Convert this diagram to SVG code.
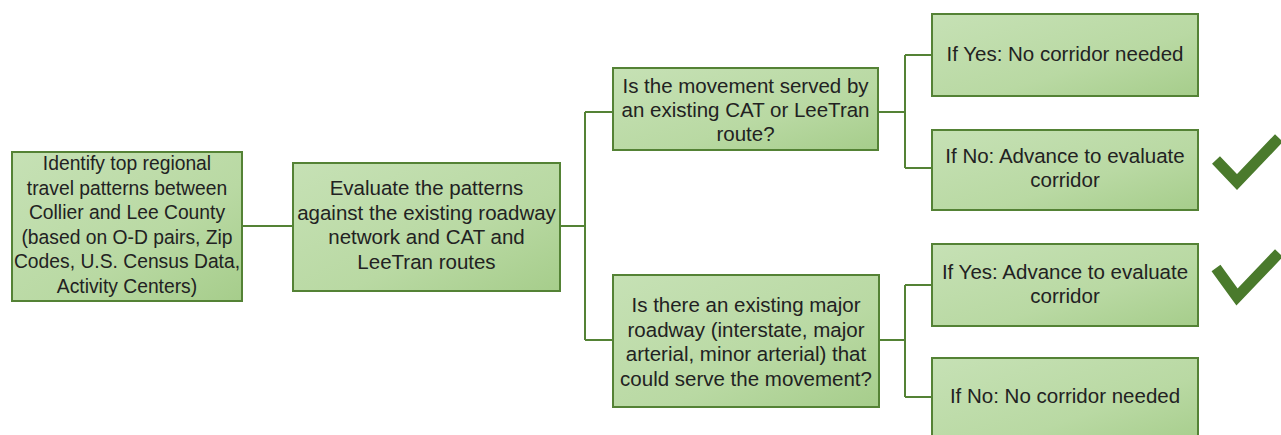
<svg xmlns="http://www.w3.org/2000/svg" width="1281" height="435" viewBox="0 0 1281 435">
<defs>
<linearGradient id="g" x1="0" y1="0" x2="1" y2="1">
<stop offset="0" stop-color="#c6e1b5"/>
<stop offset="0.6" stop-color="#b9d9a3"/>
<stop offset="1" stop-color="#a6cd8b"/>
</linearGradient>
<style>
.box{fill:url(#g);stroke:#548235;stroke-width:2}
.t{font-family:"Liberation Sans",Arial,sans-serif;font-size:20.5px;fill:#222;text-anchor:middle}
.s{font-size:19.3px}
.c{fill:none;stroke:#548235;stroke-width:2}
.chk{fill:none;stroke:#4a7a2c;stroke-width:11;stroke-linecap:butt;stroke-linejoin:miter}
</style>
</defs>
<rect width="1281" height="435" fill="#fff"/>
<g id="connectors">
<path class="c" d="M242 226H293"/>
<path class="c" d="M560 226H585M585 112V340M585 112H613M585 340H613"/>
<path class="c" d="M878 112H905M905 55V168M905 55H932M905 168H932"/>
<path class="c" d="M879 340H905M905 285V397M905 285H932M905 397H932"/>
</g>
<g id="n1">
<rect class="box" x="12" y="152" width="230" height="149"/>
<text class="t s" x="127" y="170">Identify top regional</text>
<text class="t s" x="127" y="194.5">travel patterns between</text>
<text class="t s" x="127" y="219">Collier and Lee County</text>
<text class="t s" x="127" y="243.5">(based on O-D pairs, Zip</text>
<text class="t s" x="127" y="268">Codes, U.S. Census Data,</text>
<text class="t s" x="127" y="292.5">Activity Centers)</text>
</g>
<g id="n2">
<rect class="box" x="293" y="163" width="267" height="128"/>
<text class="t" x="426.5" y="195">Evaluate the patterns</text>
<text class="t" x="426.5" y="219.5">against the existing roadway</text>
<text class="t" x="426.5" y="244">network and CAT and</text>
<text class="t" x="426.5" y="268.5">LeeTran routes</text>
</g>
<g id="n3">
<rect class="box" x="613" y="68" width="265" height="82"/>
<text class="t" x="745.5" y="93">Is the movement served by</text>
<text class="t" x="745.5" y="117">an existing CAT or LeeTran</text>
<text class="t" x="745.5" y="141">route?</text>
</g>
<g id="n4">
<rect class="box" x="613" y="275" width="266" height="132"/>
<text class="t" x="746" y="312">Is there an existing major</text>
<text class="t" x="746" y="337">roadway (interstate, major</text>
<text class="t" x="746" y="361">arterial, minor arterial) that</text>
<text class="t" x="746" y="386">could serve the movement?</text>
</g>
<g id="n5">
<rect class="box" x="932" y="14" width="266" height="82"/>
<text class="t" x="1065" y="61">If Yes: No corridor needed</text>
</g>
<g id="n6">
<rect class="box" x="932" y="130" width="266" height="80"/>
<text class="t" x="1065" y="163">If No: Advance to evaluate</text>
<text class="t" x="1065" y="187">corridor</text>
</g>
<g id="n7">
<rect class="box" x="932" y="244" width="266" height="82"/>
<text class="t" x="1065" y="279">If Yes: Advance to evaluate</text>
<text class="t" x="1065" y="303">corridor</text>
</g>
<g id="n8">
<rect class="box" x="932" y="358" width="266" height="90"/>
<text class="t" x="1065" y="403">If No: No corridor needed</text>
</g>
<g id="check1">
<path class="chk" d="M1216 160L1237 182L1279 138"/>
</g>
<g id="check2">
<path class="chk" d="M1216 268L1237 297L1279 253"/>
</g>
</svg>
